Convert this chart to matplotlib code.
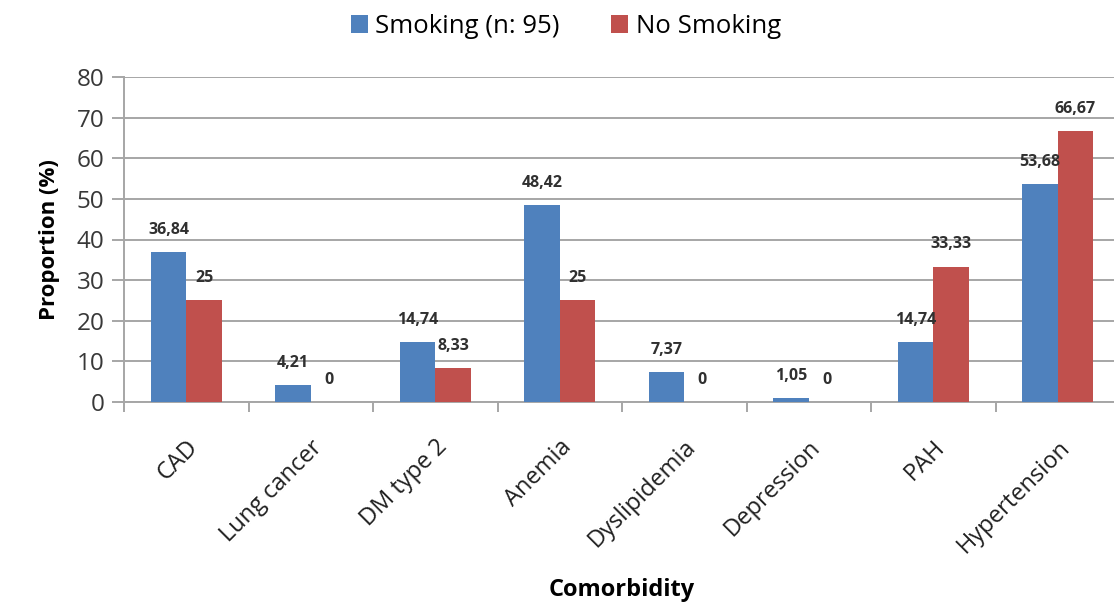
import matplotlib.pyplot as plt
import numpy as np

plt.rcParams['font.family'] = ['Open Sans', 'DejaVu Sans']

categorias = ['CAD', 'Lung cancer', 'DM type 2', 'Anemia', 'Dyslipidemia',
              'Depression', 'PAH', 'Hypertension']
smoking = [36.84, 4.21, 14.74, 48.42, 7.37, 1.05, 14.74, 53.68]
no_smoking = [25, 0, 8.33, 25, 0, 0, 33.33, 66.67]
etiquetas_series = ['Smoking (n: 95)', 'No Smoking']

azul = '#4F81BD'
rojo = '#C0504D'
gris = '#A6A6A6'

fig = plt.figure(figsize=(11.14, 6.03), dpi=100)
# el area del grafico se sale un poco por la derecha, como en el original
ax = fig.add_axes([124 / 1114, 201 / 603, 996 / 1114, 325 / 603])

x = np.arange(len(categorias))
w = 1 / 3.5

b1 = ax.bar(x - w / 2, smoking, w, color=azul, label=etiquetas_series[0], zorder=3)
b2 = ax.bar(x + w / 2, no_smoking, w, color=rojo, label=etiquetas_series[1], zorder=3)

for barras in (b1, b2):
    for bar in barras:
        h = bar.get_height()
        txt = f'{h:g}'.replace('.', ',')
        ax.annotate(txt, (bar.get_x() + bar.get_width() / 2, h),
                    xytext=(0, 16), textcoords='offset points',
                    ha='center', va='center', fontsize=11.5, fontweight='bold',
                    color='#303030', zorder=4)

ax.set_xlim(-0.5, len(categorias) - 0.5)
ax.set_ylim(0, 80)
ax.set_yticks(np.arange(0, 81, 10))
ax.yaxis.grid(True, color=gris, linewidth=1.4, zorder=0)

ax.set_xticks(np.arange(len(categorias) + 1) - 0.5, minor=False)
ax.set_xticklabels([])
ax.set_xticks(x, minor=True)
ax.set_xticklabels(categorias, minor=True, rotation=45, ha='right',
                   rotation_mode='anchor', fontsize=17, color='#202020')
ax.tick_params(axis='x', which='minor', length=0, pad=24)
ax.tick_params(axis='x', which='major', length=7, color=gris, width=1.4)
ax.tick_params(axis='y', length=9, color=gris, width=1.4, labelsize=17.5,
               labelcolor='#383838', pad=5)

for lado in ['top', 'right']:
    ax.spines[lado].set_visible(False)
for lado in ['left', 'bottom']:
    ax.spines[lado].set_color(gris)
    ax.spines[lado].set_linewidth(1.4)

ax.set_ylabel('Proportion (%)', fontsize=16, fontweight='bold', labelpad=12)
fig.text(622 / 1114, 1 - 590 / 603, 'Comorbidity', fontsize=17,
         fontweight='bold', ha='center', va='center')

fig.legend(loc='upper center', bbox_to_anchor=(566 / 1114, 1.015), ncol=2,
           frameon=False, fontsize=18.5, handlelength=0.65, handleheight=0.65,
           columnspacing=2.0, handletextpad=0.3)

plt.savefig('out.png', dpi=100)
plt.close()
